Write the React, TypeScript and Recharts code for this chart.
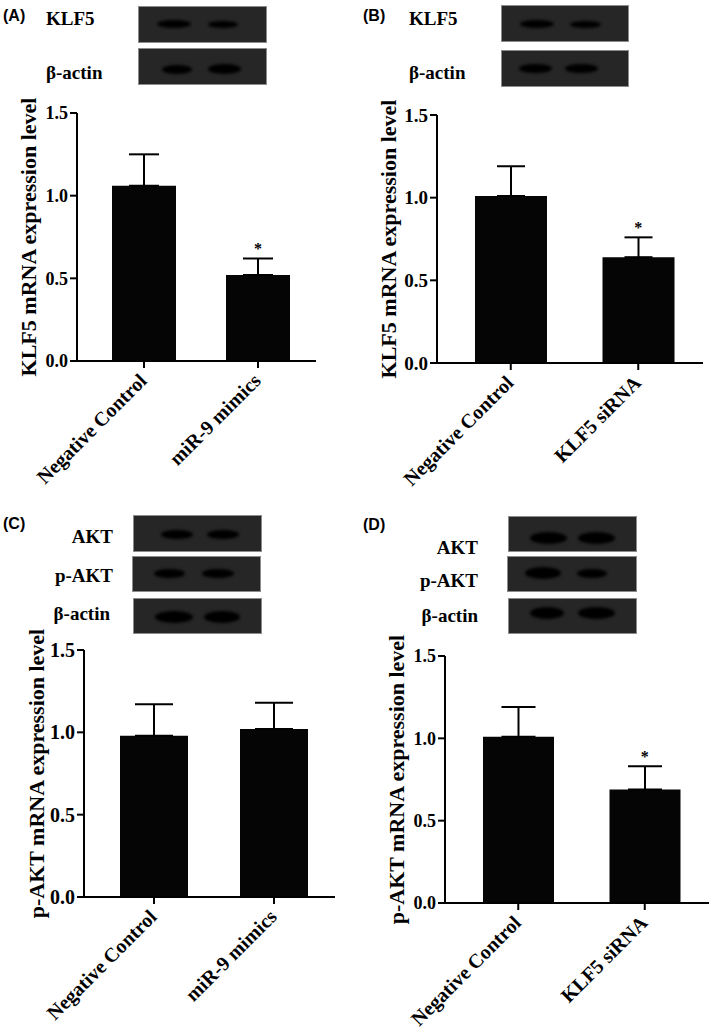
import React from 'react';
import { ComposedChart, Bar, Line, XAxis, YAxis, ErrorBar } from 'recharts';

const serif = '"Liberation Serif", "Times New Roman", serif';
const sans = '"Liberation Sans", Arial, sans-serif';

// chart values
const categoriesA = ['Negative Control', 'miR-9 mimics'];
const meansA = [1.06, 0.52];
const errorsA = [0.19, 0.1];
const sigA = [false, true];

const categoriesB = ['Negative Control', 'KLF5 siRNA'];
const meansB = [1.01, 0.64];
const errorsB = [0.18, 0.12];
const sigB = [false, true];

const categoriesC = ['Negative Control', 'miR-9 mimics'];
const meansC = [0.98, 1.02];
const errorsC = [0.19, 0.16];
const sigC = [false, false];

const categoriesD = ['Negative Control', 'KLF5 siRNA'];
const meansD = [1.01, 0.69];
const errorsD = [0.18, 0.14];
const sigD = [false, true];

const yTicks = [0, 0.5, 1.0, 1.5];

const blotLabelsAB = ['KLF5', 'β-actin'];
const blotLabelsCD = ['AKT', 'p-AKT', 'β-actin'];

// only the upper whisker shows above the bar, so the lower error is 0
const buildRows = (cats: string[], means: number[], errs: number[], sig: boolean[]) =>
  cats.map((name, i) => ({
    name,
    mean: means[i],
    err: [0, errs[i]],
    star: sig[i] ? means[i] + errs[i] : null,
  }));

type Geom = {
  left: number;
  top: number;
  width: number;
  height: number;
  plotLeft: number;
  plotTop: number;
  plotRight: number;
  plotBottom: number;
  barSize: number;
  capHalf: number;
  labelDx: number;
  tickFont: number;
};

const geomA: Geom = { left: 0, top: 85, width: 345, height: 425, plotLeft: 77, plotTop: 113, plotRight: 316, plotBottom: 361, barSize: 64, capHalf: 15, labelDx: -10, tickFont: 18 };
const geomB: Geom = { left: 355, top: 85, width: 354, height: 425, plotLeft: 437, plotTop: 115, plotRight: 703, plotBottom: 363, barSize: 72, capHalf: 14, labelDx: -8, tickFont: 19 };
const geomC: Geom = { left: 0, top: 625, width: 345, height: 405, plotLeft: 84, plotTop: 650, plotRight: 335, plotBottom: 897, barSize: 68, capHalf: 19, labelDx: -6, tickFont: 20 };
const geomD: Geom = { left: 355, top: 625, width: 354, height: 405, plotLeft: 445, plotTop: 656, plotRight: 709, plotBottom: 903, barSize: 71, capHalf: 17, labelDx: -4, tickFont: 18 };

const CategoryTick = (props: any) => {
  const { x, y, payload } = props;
  return (
    <g transform={`translate(${x + 4},${y + 12}) rotate(-45)`}>
      <text x={0} y={0} textAnchor="end" fill="#000" fontSize={20} fontWeight={700} fontFamily={serif}>
        {payload.value}
      </text>
    </g>
  );
};

const StarDot = (props: any) => {
  const { cx, cy, value, index } = props;
  if (value == null || cy == null) return <g key={`s-${index}`} />;
  return (
    <text key={`s-${index}`} x={cx} y={cy - 4} textAnchor="middle" fill="#000" fontSize={16} fontWeight={700} fontFamily={serif}>
      *
    </text>
  );
};

function BarPanel({ g, data, yLabel }: { g: Geom; data: any[]; yLabel: string }) {
  const xAxisHeight = 130;
  const margin = {
    top: g.plotTop - g.top,
    right: g.left + g.width - g.plotRight,
    left: 0,
    bottom: g.top + g.height - g.plotBottom - xAxisHeight,
  };
  return (
    <div style={{ position: 'absolute', left: g.left, top: g.top }}>
      <ComposedChart width={g.width} height={g.height} data={data} margin={margin}>
        <XAxis
          dataKey="name"
          type="category"
          height={xAxisHeight}
          padding={{ left: 10, right: 1 }}
          interval={0}
          axisLine={{ stroke: '#000', strokeWidth: 2 }}
          tickLine={{ stroke: '#000', strokeWidth: 2 }}
          tickSize={7}
          tick={<CategoryTick />}
        />
        <YAxis
          type="number"
          domain={[0, 1.5]}
          ticks={yTicks}
          width={g.plotLeft - g.left}
          axisLine={{ stroke: '#000', strokeWidth: 2 }}
          tickLine={{ stroke: '#000', strokeWidth: 2 }}
          tickSize={7}
          tickMargin={2}
          tickFormatter={(v: number) => v.toFixed(1)}
          tick={{ fill: '#000', fontSize: g.tickFont, fontWeight: 700, fontFamily: serif }}
          label={{
            value: yLabel,
            angle: -90,
            position: 'center',
            dx: g.labelDx,
            fill: '#000',
            fontSize: 22,
            fontWeight: 700,
            fontFamily: serif,
          }}
        />
        <Bar dataKey="mean" fill="#050505" barSize={g.barSize} isAnimationActive={false}>
          <ErrorBar dataKey="err" direction="y" width={g.capHalf} stroke="#000" strokeWidth={2} />
        </Bar>
        <Line dataKey="star" stroke="none" dot={StarDot} activeDot={false} isAnimationActive={false} />
      </ComposedChart>
    </div>
  );
}

// blot layout: [left, top, width, height] boxes and [x, centerY, w, h] bands
type BlotRow = { labelX: number; labelY: number; align: 'left' | 'right'; box: number[]; bands: number[][] };

const blotA: BlotRow[] = [
  { labelX: 46, labelY: 18, align: 'left', box: [138, 6, 129, 37], bands: [[157, 24, 34, 8], [208, 24, 30, 7]] },
  { labelX: 46, labelY: 72, align: 'left', box: [138, 48, 129, 37], bands: [[162, 69, 30, 9], [208, 69, 33, 10]] },
];
const blotB: BlotRow[] = [
  { labelX: 409, labelY: 18, align: 'left', box: [501, 5, 128, 37], bands: [[520, 24, 34, 8], [570, 24, 31, 7]] },
  { labelX: 409, labelY: 72, align: 'left', box: [501, 50, 128, 37], bands: [[519, 68, 33, 9], [565, 68, 33, 9]] },
];
const blotC: BlotRow[] = [
  { labelX: 113, labelY: 536, align: 'right', box: [133, 515, 129, 37], bands: [[161, 534, 32, 9], [207, 534, 32, 9]] },
  { labelX: 113, labelY: 575, align: 'right', box: [132, 556, 129, 36], bands: [[154, 573, 31, 9], [202, 573, 32, 9]] },
  { labelX: 110, labelY: 613, align: 'right', box: [133, 598, 129, 36], bands: [[155, 617, 38, 12], [204, 617, 36, 12]] },
];
const blotD: BlotRow[] = [
  { labelX: 478, labelY: 547, align: 'right', box: [508, 516, 129, 36], bands: [[530, 538, 37, 12], [578, 538, 37, 12]] },
  { labelX: 478, labelY: 580, align: 'right', box: [507, 556, 130, 36], bands: [[525, 573, 36, 12], [577, 573, 30, 9]] },
  { labelX: 478, labelY: 615, align: 'right', box: [508, 598, 129, 36], bands: [[530, 613, 34, 12], [578, 613, 37, 12]] },
];

function Blot({ rows, labels }: { rows: BlotRow[]; labels: string[] }) {
  return (
    <>
      {rows.map((r, i) => (
        <React.Fragment key={i}>
          <div
            style={{
              position: 'absolute',
              left: r.labelX,
              top: r.labelY,
              transform: r.align === 'right' ? 'translate(-100%, -50%)' : 'translateY(-50%)',
              fontFamily: serif,
              fontWeight: 700,
              fontSize: 19,
              lineHeight: 1,
              whiteSpace: 'nowrap',
              color: '#000',
            }}
          >
            {labels[i]}
          </div>
          <div
            style={{
              position: 'absolute',
              left: r.box[0],
              top: r.box[1],
              width: r.box[2],
              height: r.box[3],
              boxSizing: 'border-box',
              background: '#262626',
              border: '1px solid #8c8c8c',
            }}
          />
          {r.bands.map((b, j) => (
            <div
              key={j}
              style={{
                position: 'absolute',
                left: b[0],
                top: b[1] - b[3] / 2,
                width: b[2],
                height: b[3],
                borderRadius: '50%',
                background: '#000',
                filter: 'blur(1.5px)',
              }}
            />
          ))}
        </React.Fragment>
      ))}
    </>
  );
}

const Tag = ({ x, y, text }: { x: number; y: number; text: string }) => (
  <div
    style={{
      position: 'absolute',
      left: x,
      top: y,
      transform: 'translateY(-50%)',
      fontFamily: sans,
      fontWeight: 700,
      fontSize: 16,
      lineHeight: 1,
      color: '#000',
    }}
  >
    {text}
  </div>
);

export default function App() {
  return (
    <div style={{ position: 'absolute', left: 0, top: 0, width: 709, height: 1030, background: '#fff', overflow: 'hidden' }}>
      <Tag x={3} y={16} text="(A)" />
      <Tag x={363} y={16} text="(B)" />
      <Tag x={3} y={524} text="(C)" />
      <Tag x={363} y={525} text="(D)" />
      <Blot rows={blotA} labels={blotLabelsAB} />
      <Blot rows={blotB} labels={blotLabelsAB} />
      <Blot rows={blotC} labels={blotLabelsCD} />
      <Blot rows={blotD} labels={blotLabelsCD} />
      <BarPanel g={geomA} data={buildRows(categoriesA, meansA, errorsA, sigA)} yLabel="KLF5 mRNA expression level" />
      <BarPanel g={geomB} data={buildRows(categoriesB, meansB, errorsB, sigB)} yLabel="KLF5 mRNA expression level" />
      <BarPanel g={geomC} data={buildRows(categoriesC, meansC, errorsC, sigC)} yLabel="p-AKT mRNA expression level" />
      <BarPanel g={geomD} data={buildRows(categoriesD, meansD, errorsD, sigD)} yLabel="p-AKT mRNA expression level" />
    </div>
  );
}
